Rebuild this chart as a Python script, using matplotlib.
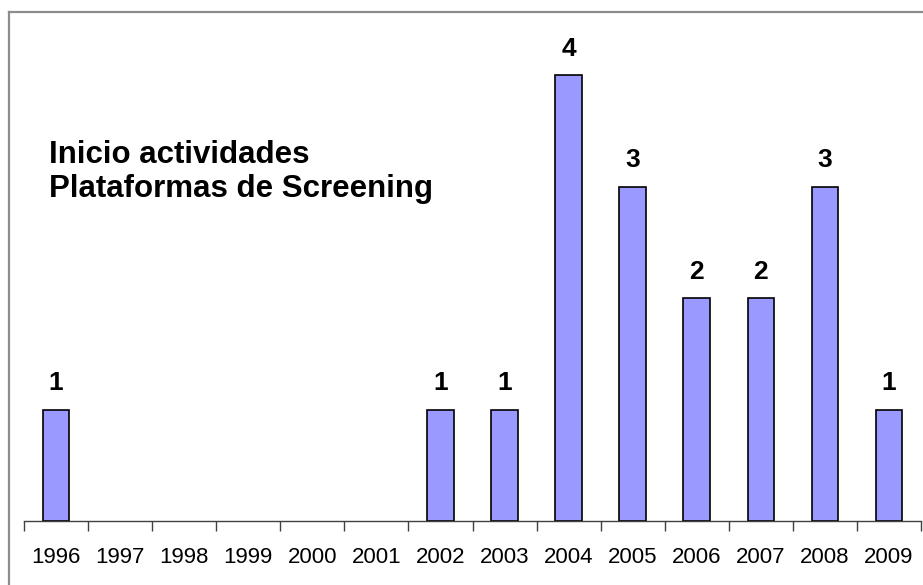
import matplotlib
matplotlib.use("Agg")
import matplotlib.pyplot as plt
from matplotlib.lines import Line2D
import numpy as np

years = ["1996", "1997", "1998", "1999", "2000", "2001", "2002", "2003",
         "2004", "2005", "2006", "2007", "2008", "2009"]
counts = [1, 0, 0, 0, 0, 0, 1, 1, 4, 3, 2, 2, 3, 1]
title_lines = ["Inicio actividades", "Plataformas de Screening"]

W, H = 923, 585
plt.rcParams['font.family'] = ['Liberation Sans', 'DejaVu Sans']
fig = plt.figure(figsize=(W / 100, H / 100), dpi=100)

# outer chart border (gray), cut off at right and bottom
fig.add_artist(Line2D([8.5 / W, 8.5 / W], [0, 1 - 12 / H], transform=fig.transFigure,
                      color="#8c8c8c", lw=1.6))
fig.add_artist(Line2D([8.5 / W, 1], [1 - 12 / H, 1 - 12 / H], transform=fig.transFigure,
                      color="#8c8c8c", lw=1.6))

left, right = 24, 921
bottom_px = 521
ymax = 4.5
unit = 111.5
top_px = bottom_px - ymax * unit
ax = fig.add_axes([left / W, 1 - bottom_px / H, (right - left) / W, (bottom_px - top_px) / H])
ax.set_facecolor("none")

x = np.arange(len(years))
edge_widths = [1.2 if c > 0 else 0 for c in counts]
ax.bar(x, counts, width=0.415, color="#9999FF", edgecolor="black",
       linewidth=edge_widths, zorder=3)
for xi, c in zip(x, counts):
    if c > 0:
        ax.text(xi, c + 0.13, str(c), ha="center", va="bottom", fontsize=19,
                fontweight="bold", color="black")

ax.set_xlim(-0.5, len(years) - 0.5)
ax.set_ylim(0, ymax)
for s in ["top", "right", "left"]:
    ax.spines[s].set_visible(False)
ax.spines["bottom"].set_color("#404040")
ax.spines["bottom"].set_linewidth(1.0)
ax.spines["bottom"].set_zorder(4)
ax.set_yticks([])
ax.set_xticks(x)
ax.set_xticklabels(years, fontsize=16)
ax.tick_params(axis="x", which="major", length=0, pad=19)
ax.set_xticks(np.arange(-0.5, len(years), 1.0), minor=True)
ax.tick_params(axis="x", which="minor", length=7, width=1.0, color="#404040",
               direction="out")

fig.text(49 / W, 1 - 163 / H, title_lines[0], fontsize=22.5, fontweight="bold",
         ha="left", va="baseline")
fig.text(49 / W, 1 - 197 / H, title_lines[1], fontsize=22.5, fontweight="bold",
         ha="left", va="baseline")

fig.savefig("out.png", dpi=100)
